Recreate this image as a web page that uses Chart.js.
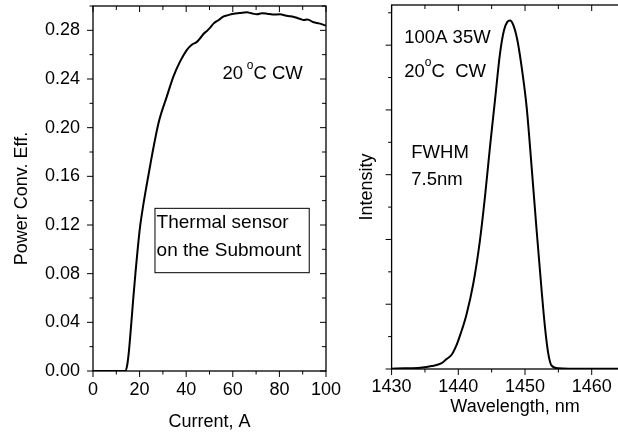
<!DOCTYPE html>
<html>
<head>
<meta charset="utf-8">
<script src="https://cdn.jsdelivr.net/npm/chart.js@4.4.1/dist/chart.umd.min.js"></script>
<style>
  html, body { margin: 0; padding: 0; background: #fff; overflow: hidden; }
  #wrap { position: relative; width: 618px; height: 433px; overflow: hidden; background: #fff; }
  canvas { position: absolute; top: 0; }
  #pce { left: 0; }
  #spec { left: 330px; }
</style>
</head>
<body>
<div id="wrap">
  <canvas id="pce" width="345" height="433"></canvas>
  <canvas id="spec" width="315" height="433"></canvas>
</div>
<script>
// left panel: power conversion efficiency vs drive current
const current = [0, 5, 10, 13.8, 14.6, 15.4, 16.3, 17.3, 18.2, 19.0, 20.2, 21.5, 23.0, 25.2, 28.1, 31.7, 34.5, 37.4, 40.3,
  42.4, 44.6, 46.0, 47.4, 48.9, 50.3, 51.7, 54.0, 56.1, 58.0, 60.4, 63.0, 66.1, 68.0, 70.4, 72.5,
  74.7, 77.0, 80.4, 82.5, 84.7, 87.0, 89.0, 90.4, 92.0, 94.7, 97.0, 100];
const pce = [0, 0, 0, 0, 0.004, 0.016, 0.036, 0.060, 0.080, 0.0967, 0.1186, 0.1355, 0.1525, 0.1760, 0.2037, 0.2257, 0.242, 0.2545, 0.264,
  0.2682, 0.2705, 0.2735, 0.2770, 0.2795, 0.2822, 0.2855, 0.2885, 0.2915, 0.2925, 0.2937, 0.2942, 0.2948, 0.2940, 0.2932, 0.2941,
  0.2937, 0.2930, 0.2932, 0.2922, 0.2915, 0.2905, 0.2893, 0.2885, 0.2889, 0.2866, 0.2857, 0.2839];
const currentTicks = [0, 20, 40, 60, 80, 100];
const pceTicks = [0, 0.04, 0.08, 0.12, 0.16, 0.20, 0.24, 0.28];

// right panel: emission spectrum
const wavelength = [1430, 1432, 1434.3, 1436, 1437.5, 1438.2, 1439.0, 1439.7, 1440.3, 1441.2, 1442.25, 1443.25, 1444.0,
  1444.75, 1445.5, 1446.25, 1446.85, 1447.35, 1447.75, 1448.25, 1448.85, 1449.5, 1450.25, 1451.0,
  1451.75, 1452.5, 1453.0, 1453.5, 1454.0, 1455.0, 1457, 1460, 1467];
const intensity = [0.005, 0.01, 0.02, 0.045, 0.09, 0.15, 0.22, 0.36, 0.53, 0.83, 1.32, 1.99, 2.66,
  3.43, 4.15, 4.87, 5.23, 5.36, 5.38, 5.31, 5.08, 4.66, 4.04, 3.11,
  2.13, 1.20, 0.64, 0.23, 0.05, 0.01, 0.005, 0.003, 0.002];
const wavelengthTicks = [1430, 1440, 1450, 1460];

const FONT = "'Liberation Sans', Arial, sans-serif";
Chart.defaults.font.family = FONT;
Chart.defaults.color = '#000';

// box frame + major/minor ticks (outside on left/bottom, inside on top/right)
const frameTicks = {
  id: 'frameTicks',
  afterDatasetsDraw(chart, args, o) {
    const { ctx, chartArea: a, scales } = chart;
    const xs = scales.x, ys = scales.y;
    ctx.save();
    ctx.strokeStyle = '#000';
    ctx.lineWidth = 1;
    const line = (x1, y1, x2, y2) => { ctx.beginPath(); ctx.moveTo(x1, y1); ctx.lineTo(x2, y2); ctx.stroke(); };
    const walk = (s, minor, major, fn) => {
      const n = Math.floor((s.max - s.min) / minor + 1e-6);
      for (let i = 0; i <= n; i++) {
        const v = s.min + i * minor;
        const r = v / major;
        fn(s.getPixelForValue(v), Math.abs(r - Math.round(r)) < 1e-6);
      }
    };
    walk(xs, o.xMinor, o.xMajor, (p, big) => {
      line(p, a.bottom, p, a.bottom + (big ? 6 : 3.5));
      line(p, a.top, p, a.top + (big ? 6 : 4));
    });
    walk(ys, o.yMinor, o.yMajor, (p, big) => {
      line(a.left - (big ? 6 : 3.5), p, a.left, p);
      line(a.right - (big ? 6 : 4), p, a.right, p);
    });
    ctx.lineWidth = 1.3;
    ctx.strokeRect(a.left, a.top, a.right - a.left, a.bottom - a.top);
    ctx.restore();
  }
};

// text notes anchored in data coordinates
const notes = {
  id: 'notes',
  afterDatasetsDraw(chart, args, o) {
    const { ctx, scales: { x, y } } = chart;
    ctx.save();
    ctx.fillStyle = '#000';
    ctx.strokeStyle = '#000';
    ctx.textBaseline = 'middle';
    if (o.box) {
      const b = o.box;
      const x1 = x.getPixelForValue(b.x1), x2 = x.getPixelForValue(b.x2);
      const y1 = y.getPixelForValue(b.y1), y2 = y.getPixelForValue(b.y2);
      ctx.lineWidth = 1;
      ctx.strokeRect(x1, y1, x2 - x1, y2 - y1);
    }
    (o.items || []).forEach(it => {
      let px = x.getPixelForValue(it.x);
      const py = y.getPixelForValue(it.y);
      it.parts.forEach(([t, sup]) => {
        ctx.font = (sup ? 12 : it.size) + 'px ' + FONT;
        ctx.fillText(t, px, sup ? py - 9 : py);
        px += ctx.measureText(t).width;
      });
    });
    ctx.restore();
  }
};

const ticksFrom = arr => s => { s.ticks = arr.map(v => ({ value: v })); };

new Chart(document.getElementById('pce'), {
  type: 'line',
  data: {
    datasets: [{
      data: current.map((c, i) => ({ x: c, y: pce[i] })),
      borderColor: '#000',
      borderWidth: 2,
      pointRadius: 0,
      cubicInterpolationMode: 'monotone',
      fill: false
    }]
  },
  options: {
    responsive: false,
    animation: false,
    layout: { padding: { left: 0, top: 6, right: 19, bottom: 0 } },
    plugins: {
      legend: { display: false },
      tooltip: { enabled: false },
      frameTicks: { xMinor: 10, xMajor: 20, yMinor: 0.02, yMajor: 0.04 },
      notes: {
        box: { x1: 26.6, x2: 92.8, y1: 0.1337, y2: 0.0808 },
        items: [
          { x: 55.6, y: 0.2439, size: 18.5, parts: [['20'], ['\u2009'], ['o', true], ['C CW']] },
          { x: 27.3, y: 0.1220, size: 19, parts: [['Thermal sensor']] },
          { x: 27.3, y: 0.0988, size: 19, parts: [['on the Submount']] }
        ]
      }
    },
    scales: {
      x: {
        type: 'linear', min: 0, max: 100,
        afterBuildTicks: ticksFrom(currentTicks),
        afterFit: s => { s.height = 62; s.paddingLeft = 0; s.paddingRight = 0; },
        grid: { display: false, drawTicks: false },
        border: { display: false },
        ticks: { padding: 8.5, font: { size: 18 }, color: '#000', maxRotation: 0, autoSkip: false, callback: v => String(v) },
        title: { display: true, text: 'Current, A', font: { size: 18 }, color: '#000', padding: { top: 0, bottom: 0.5 } }
      },
      y: {
        type: 'linear', min: 0, max: 0.30,
        afterBuildTicks: ticksFrom(pceTicks),
        afterFit: s => { s.width = 93; s.paddingTop = 0; s.paddingBottom = 0; },
        grid: { display: false, drawTicks: false },
        border: { display: false },
        ticks: { padding: 13, font: { size: 18 }, color: '#000', autoSkip: false, callback: v => v.toFixed(2) },
        title: { display: true, text: 'Power Conv. Eff.    ', font: { size: 18 }, color: '#000', padding: { top: 10.9, bottom: 0 } }
      }
    }
  },
  plugins: [frameTicks, notes]
});

new Chart(document.getElementById('spec'), {
  type: 'line',
  data: {
    datasets: [{
      data: wavelength.map((w, i) => ({ x: w, y: intensity[i] })),
      borderColor: '#000',
      borderWidth: 2,
      pointRadius: 0,
      cubicInterpolationMode: 'monotone',
      fill: false
    }]
  },
  options: {
    responsive: false,
    animation: false,
    layout: { padding: { left: 0, top: 5, right: 6.6, bottom: 0 } },
    plugins: {
      legend: { display: false },
      tooltip: { enabled: false },
      frameTicks: { xMinor: 5, xMajor: 10, yMinor: 0.5, yMajor: 1 },
      notes: {
        items: [
          { x: 1431.9, y: 5.106, size: 18.5, parts: [['100A 35W']] },
          { x: 1431.9, y: 4.59, size: 18.5, parts: [['20'], ['o', true], ['C  CW']] },
          { x: 1432.95, y: 3.33, size: 18.5, parts: [['FWHM']] },
          { x: 1432.95, y: 2.918, size: 18.5, parts: [['7.5nm']] }
        ]
      }
    },
    scales: {
      x: {
        type: 'linear', min: 1430, max: 1467,
        afterBuildTicks: ticksFrom(wavelengthTicks),
        afterFit: s => { s.height = 64; s.paddingLeft = 0; s.paddingRight = 0; },
        grid: { display: false, drawTicks: false },
        border: { display: false },
        ticks: { padding: 7, font: { size: 18 }, color: '#000', maxRotation: 0, autoSkip: false, callback: v => String(v) },
        title: { display: true, text: 'Wavelength, nm', font: { size: 18 }, color: '#000', padding: { top: 0, bottom: 14.9 } }
      },
      y: {
        type: 'linear', min: 0, max: 5.62,
        afterFit: s => { s.width = 61.6; s.paddingTop = 0; s.paddingBottom = 0; },
        grid: { display: false, drawTicks: false },
        border: { display: false },
        ticks: { display: false },
        title: { display: true, text: 'Intensity', font: { size: 18 }, color: '#000', padding: { top: 25.9, bottom: 0 } }
      }
    }
  },
  plugins: [frameTicks, notes]
});
</script>
</body>
</html>
